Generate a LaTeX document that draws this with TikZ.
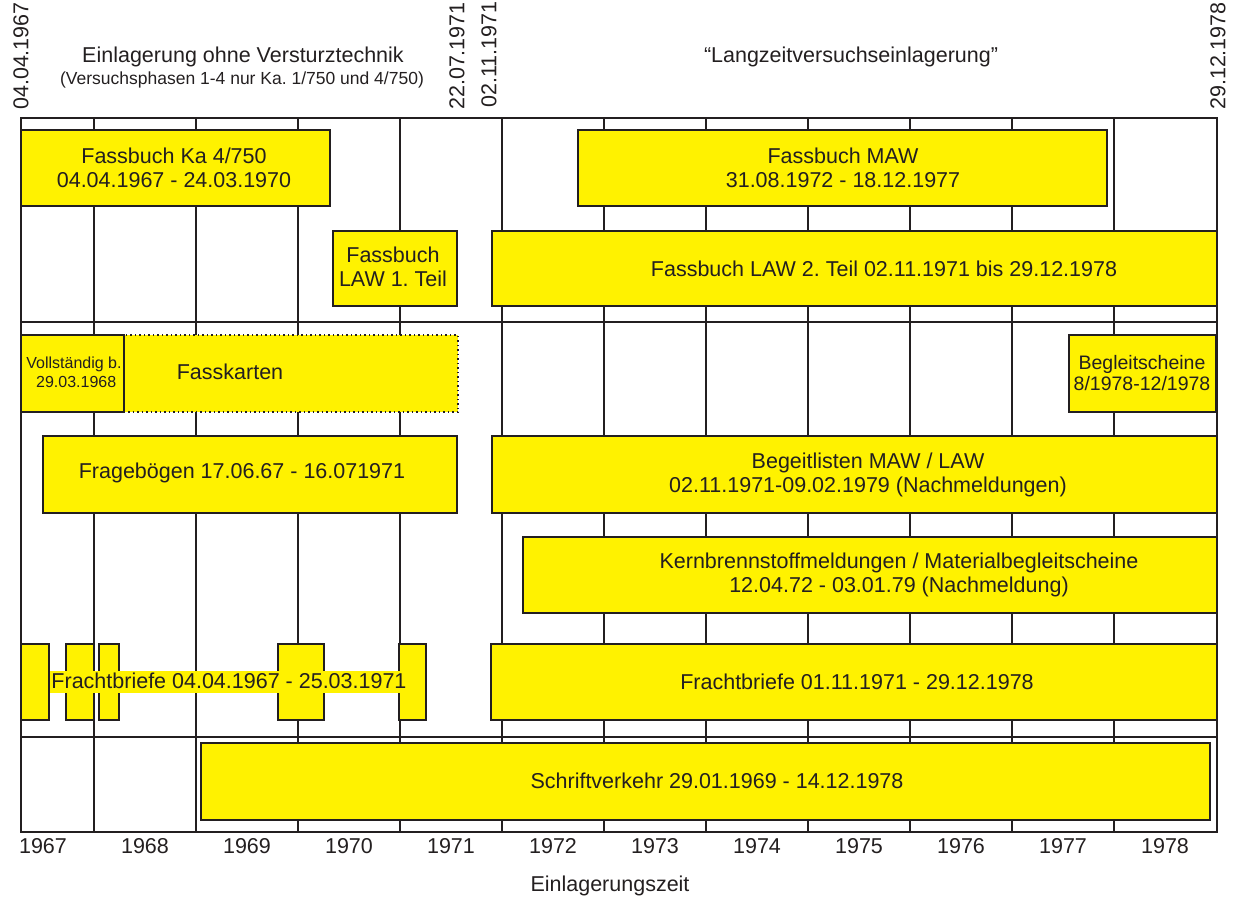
\documentclass[tikz,border=0pt]{standalone}
\usepackage{fontspec}
\setmainfont{Liberation Sans}
\definecolor{ink}{RGB}{35,31,32}
\definecolor{boxyellow}{RGB}{255,242,0}
\frenchspacing

\begin{document}
\begin{tikzpicture}[x=1pt,y=-1pt,
  every node/.style={font=\fontsize{21.5}{24}\selectfont,text=ink,inner sep=0pt,align=center},
  grid/.style={draw=ink,line width=2pt},
  bar/.style={draw=ink,fill=boxyellow,line width=1.8pt},
  small/.style={font=\fontsize{16}{19}\selectfont},
  datum/.style={rotate=90,anchor=west}]
  \useasboundingbox (0,0) rectangle (1236,899);
  \coordinate (tl) at (21,118);
  \coordinate (br) at (1217,832);
  % frame and year grid
  \foreach \k in {0,...,10}{\draw[grid] (94+102*\k,118) -- (94+102*\k,832);}
  \draw[grid] (21,322) -- (1217,322);
  \draw[grid] (21,737) -- (1217,737);
  \draw[grid] (tl) rectangle (br);
  % headings
  \node (t1) at (243,57) {Einlagerung ohne Versturztechnik};
  \node[font=\fontsize{17.5}{20}\selectfont] (t2) at (242,80) {(Versuchsphasen 1-4 nur Ka. 1/750 und 4/750)};
  \node (t3) at (851,57) {“Langzeitversuchseinlagerung”};
  \node[datum] (d1) at (21,110) {04.04.1967};
  \node[datum] (d2) at (457,110) {22.07.1971};
  \node[datum] (d3) at (489,108) {02.11.1971};
  \node[datum] (d4) at (1218,110) {29.12.1978};
  % row 1 and 2
  \draw[bar] (21,130) rectangle (330,206);
  \node (fbka) at (174,168) {Fassbuch Ka 4/750\\04.04.1967 - 24.03.1970};
  \draw[bar] (578,130) rectangle (1107,206);
  \node (fbmaw) at (843,168) {Fassbuch MAW\\31.08.1972 - 18.12.1977};
  \draw[bar] (333,231) rectangle (457,306);
  \node (law1) at (393,267) {Fassbuch\\LAW 1. Teil};
  \draw[bar] (492,231) rectangle (1217,306);
  \node (law2) at (884,269) {Fassbuch LAW 2. Teil 02.11.1971 bis 29.12.1978};
  % row 3
  \draw[bar,line width=1.5pt,dash pattern=on 1.5pt off 3pt] (124,335) rectangle (458,412);
  \node (fk) at (230,372) {Fasskarten};
  \draw[bar] (21,335) rectangle (124,412);
  \node[small] (voll) at (74,372) {Vollständig b.\\\ 29.03.1968};
  \draw[bar] (1069,335) rectangle (1216,412);
  \node[font=\fontsize{19.5}{21}\selectfont] (bgs) at (1142,373) {Begleitscheine\\8/1978-12/1978};
  % row 4 and 5
  \draw[bar] (43,436) rectangle (457,513);
  \node (frage) at (242,473) {Fragebögen 17.06.67 - 16.071971};
  \draw[bar] (492,436) rectangle (1217,513);
  \node (bgl) at (868,475) {Begeitlisten MAW / LAW\\02.11.1971-09.02.1979 (Nachmeldungen)};
  \draw[bar] (523,537) rectangle (1217,613);
  \node (kern) at (899,575) {Kernbrennstoffmeldungen / Materialbegleitscheine\\12.04.72 - 03.01.79 (Nachmeldung)};
  % row 6
  \foreach \a/\b in {21/49,66/94,99/119,278/324,399/426}{\draw[bar] (\a,644) rectangle (\b,720);}
  \node[fill=boxyellow,inner xsep=1pt,inner ysep=1.5pt,text height=16pt,text depth=3pt] (frb1) at (229,682) {Frachtbriefe 04.04.1967 - 25.03.1971};
  \draw[bar] (491,644) rectangle (1217,720);
  \node (frb2) at (857,682) {Frachtbriefe 01.11.1971 - 29.12.1978};
  % row 7
  \draw[bar] (201,743) rectangle (1210,820);
  \node (schr) at (717,781) {Schriftverkehr 29.01.1969 - 14.12.1978};
  % axis
  \foreach \y [count=\k from 0] in {1967,...,1978}{\node (y\y) at (43+102*\k,846) {\y};}
  \node (zeit) at (610,886) {Einlagerungszeit};
\end{tikzpicture}
\end{document}
